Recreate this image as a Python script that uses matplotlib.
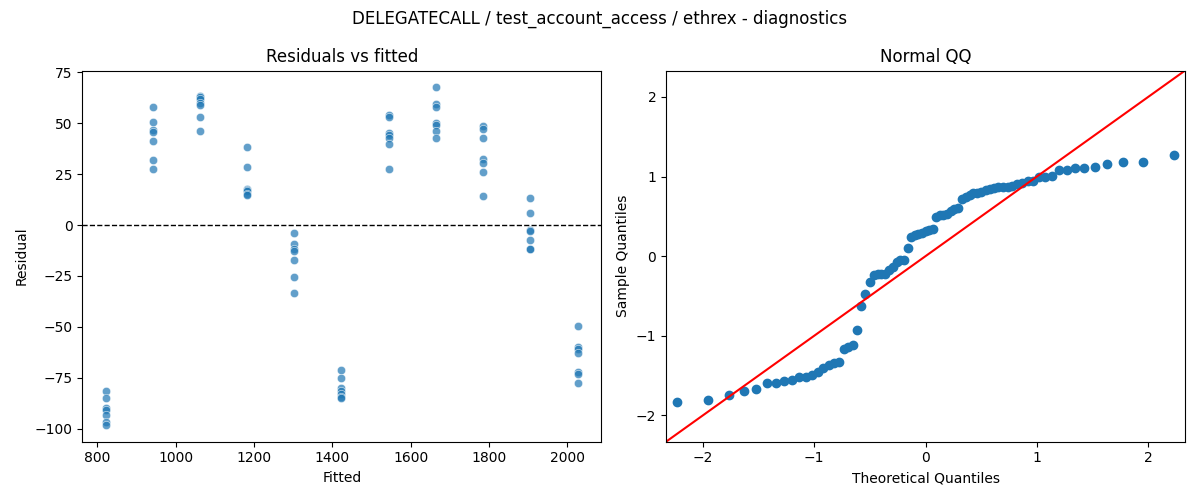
"""Regression diagnostics: residuals vs fitted + normal QQ of residuals."""
from statistics import NormalDist

import numpy as np
import matplotlib
matplotlib.use("Agg")
import matplotlib.pyplot as plt
import seaborn as sns

TITLE = "DELEGATECALL / test_account_access / ethrex - diagnostics"

# fitted value of each group (11 groups, 7 runs each)
fitted_levels = [822, 942, 1062, 1182, 1303, 1423, 1544, 1664, 1785, 1905, 2026]

# residuals, one list per fitted level
resid_822 = [-81.5, -85.1, -89.7, -90.9, -93.3, -96.6, -98.2]
resid_942 = [58.0, 50.4, 46.7, 45.7, 41.1, 31.8, 27.4]
resid_1062 = [63.5, 62.9, 61.9, 59.8, 59.0, 52.9, 46.2]
resid_1182 = [38.2, 28.3, 17.9, 17.2, 16.5, 15.4, 14.7]
resid_1303 = [-4.1, -9.5, -11.8, -12.6, -17.3, -25.7, -33.4]
resid_1423 = [-71.2, -75.0, -79.9, -81.5, -83.2, -84.3, -85.1]
resid_1544 = [54.0, 52.9, 45.3, 44.2, 42.9, 39.8, 27.4]
resid_1664 = [67.6, 59.3, 57.8, 50.2, 49.1, 46.2, 42.6]
resid_1785 = [48.6, 47.3, 42.6, 32.4, 30.3, 25.9, 14.1]
resid_1905 = [13.1, 5.7, -2.5, -2.9, -7.5, -11.8, -11.9]
resid_2026 = [-49.6, -59.8, -61.1, -62.7, -72.0, -73.2, -77.8]

groups = [resid_822, resid_942, resid_1062, resid_1182, resid_1303, resid_1423,
          resid_1544, resid_1664, resid_1785, resid_1905, resid_2026]

fitted = np.concatenate([[f] * len(g) for f, g in zip(fitted_levels, groups)])
resid = np.concatenate(groups)

# QQ: standardised sorted residuals vs normal quantiles at i/(n+1)
n = len(resid)
sample_q = np.sort((resid - resid.mean()) / resid.std())
theo_q = np.array([NormalDist().inv_cdf(i / (n + 1)) for i in range(1, n + 1)])

fig, axes = plt.subplots(1, 2, figsize=(12, 5))

ax = axes[0]
sns.scatterplot(x=fitted, y=resid, ax=ax, alpha=0.7)
ax.axhline(0, color="k", ls="--", lw=1)
ax.set_xlabel("Fitted")
ax.set_ylabel("Residual")
ax.set_title("Residuals vs fitted")

ax = axes[1]
ax.plot(theo_q, sample_q, "o", color="C0", ls="none")
lim = 2.33
ax.plot([-lim, lim], [-lim, lim], color="r")
ax.set_xlim(-lim, lim); ax.set_ylim(-lim, lim)
ax.set_xlabel("Theoretical Quantiles")
ax.set_ylabel("Sample Quantiles")
ax.set_title("Normal QQ")

fig.suptitle(TITLE)
fig.tight_layout()
fig.savefig("out.png", dpi=100)
